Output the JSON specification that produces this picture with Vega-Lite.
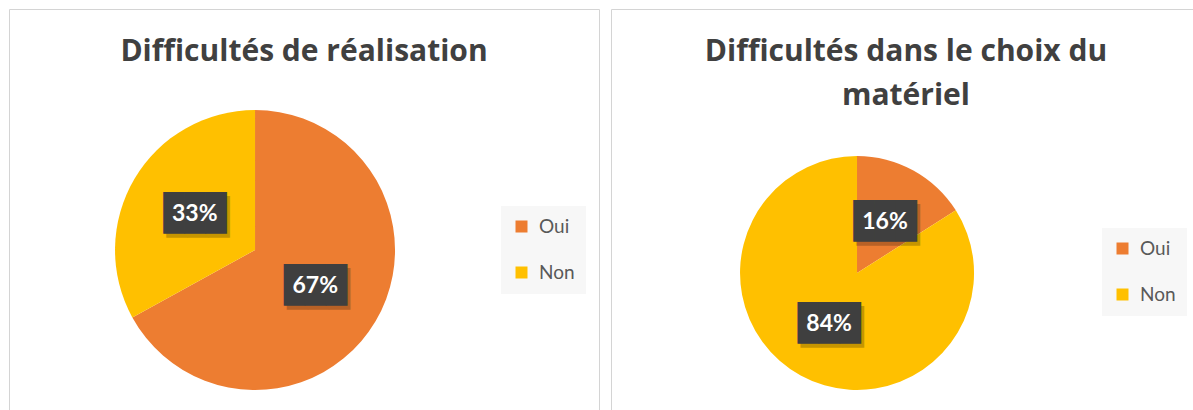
{
  "$schema": "https://vega.github.io/schema/vega-lite/v6.json",
  "padding": {"left": 8, "top": 8, "right": 0, "bottom": 0},
  "background": "white",
  "config": {
    "view": {"stroke": "#d4d4d4", "strokeWidth": 1},
    "font": "Lato",
    "concat": {"spacing": 10},
    "title": {"fontSize": 30, "fontWeight": "bold", "color": "#404040", "anchor": "middle", "baseline": "alphabetic", "font": "Open Sans", "lineHeight": 44},
    "legend": {"orient": "none", "title": null, "fillColor": "#f7f7f7", "padding": 11, "symbolType": "square", "symbolSize": 144, "symbolStrokeWidth": 0, "labelFontSize": 19, "labelColor": "#595959", "labelFont": "Lato", "rowPadding": 26, "labelOffset": 8}
  },
  "resolve": {"scale": {"color": "independent"}, "legend": {"color": "independent"}},
  "hconcat": [
    {
      "width": 590,
      "height": 404,
      "title": {"text": "Difficultés de réalisation", "offset": -58},
      "data": {"values": [{"reponse": "Oui", "part": 0.67}, {"reponse": "Non", "part": 0.33}]},
      "encoding": {
        "theta": {"field": "part", "type": "quantitative", "stack": true},
        "order": {"field": "reponse", "sort": "descending"},
        "x": {"datum": 0.417, "type": "quantitative", "scale": {"domain": [0, 1]}, "axis": null},
        "y": {"datum": 0.5965, "type": "quantitative", "scale": {"domain": [0, 1], "reverse": true}, "axis": null}
      },
      "layer": [
        {
          "mark": {"type": "arc", "outerRadius": 140},
          "encoding": {
            "color": {"field": "reponse", "type": "nominal", "scale": {"domain": ["Oui", "Non"], "range": ["#ED7D31", "#FFC000"]}, "legend": {"legendX": 492, "legendY": 197}}
          }
        },
        {"mark": {"type": "text", "radius": 70, "text": "███", "font": "DejaVu Sans Mono", "fontSize": 35, "color": "#000000", "opacity": 0.22, "dx": 3, "dy": 4, "baseline": "middle", "align": "center"}},
        {"mark": {"type": "text", "radius": 70, "text": "███", "font": "DejaVu Sans Mono", "fontSize": 35, "color": "#3f3f3f", "baseline": "middle", "align": "center"}},
        {
          "mark": {"type": "text", "radius": 70, "font": "Lato", "fontSize": 23, "fontWeight": "bold", "color": "white", "baseline": "middle", "align": "center"},
          "encoding": {"text": {"field": "part", "type": "quantitative", "format": ".0%"}}
        }
      ]
    },
    {
      "width": 590,
      "height": 404,
      "title": {"text": ["Difficultés dans le choix du", "matériel"], "offset": -102},
      "data": {"values": [{"reponse": "Oui", "part": 0.16}, {"reponse": "Non", "part": 0.84}]},
      "encoding": {
        "theta": {"field": "part", "type": "quantitative", "stack": true},
        "order": {"field": "reponse", "sort": "descending"},
        "x": {"datum": 0.417, "type": "quantitative", "scale": {"domain": [0, 1]}, "axis": null},
        "y": {"datum": 0.6535, "type": "quantitative", "scale": {"domain": [0, 1], "reverse": true}, "axis": null}
      },
      "layer": [
        {
          "mark": {"type": "arc", "outerRadius": 117},
          "encoding": {
            "color": {"field": "reponse", "type": "nominal", "scale": {"domain": ["Oui", "Non"], "range": ["#ED7D31", "#FFC000"]}, "legend": {"legendX": 491, "legendY": 219}}
          }
        },
        {"mark": {"type": "text", "radius": 58, "text": "███", "font": "DejaVu Sans Mono", "fontSize": 35, "color": "#000000", "opacity": 0.22, "dx": 3, "dy": 4, "baseline": "middle", "align": "center"}},
        {"mark": {"type": "text", "radius": 58, "text": "███", "font": "DejaVu Sans Mono", "fontSize": 35, "color": "#3f3f3f", "baseline": "middle", "align": "center"}},
        {
          "mark": {"type": "text", "radius": 58, "font": "Lato", "fontSize": 23, "fontWeight": "bold", "color": "white", "baseline": "middle", "align": "center"},
          "encoding": {"text": {"field": "part", "type": "quantitative", "format": ".0%"}}
        }
      ]
    }
  ]
}
